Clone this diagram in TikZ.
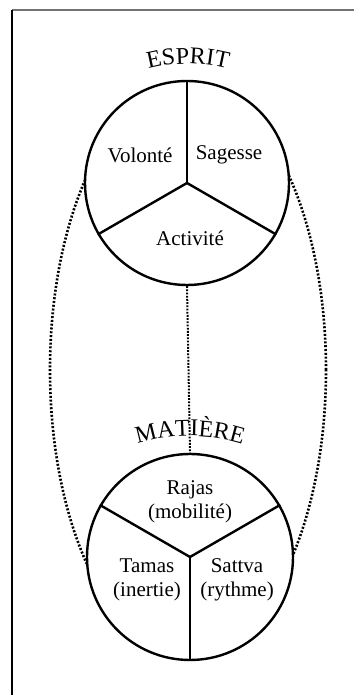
\documentclass[tikz,border=0pt]{standalone}
\usepackage{fontspec}
\setmainfont{Liberation Serif}
\usepackage{tikz}
\usetikzlibrary{decorations.text,calc}

\begin{document}
\begin{tikzpicture}[
  x=0.5pt, y=0.5pt,
  font=\fontsize{10.5}{12}\selectfont,
  orb/.style={circle, draw, fill=white, line width=1.2pt, inner sep=0pt},
  spoke/.style={line width=1.2pt},
  dotline/.style={line width=1.3pt, dash pattern=on 1pt off 0.9pt},
  lbl/.style={align=center, inner sep=1pt},
  arched/.style={decorate, decoration={text along path, text align=center,
                 text={#1}, text format delimiters={|}{|}}},
]
  \useasboundingbox (0,0) rectangle (354,695);

  % frame
  \draw[line width=1pt, black!55] (12,685) -- (354,685);
  \draw[line width=0.8pt] (12,685) -- (12,0);

  % outer loop (hidden behind the two circles)
  \draw[dotline] (188,325) ellipse [x radius=138, y radius=285];

  % circles
  \node[orb, minimum size=102pt] (esprit) at (187,512) {};
  \node[orb, minimum size=103pt] (matiere) at (190,138) {};

  % spokes
  \foreach \a in {90,210,330}
    \draw[spoke] (esprit.center) -- (esprit.\a);
  \foreach \a in {270,150,30}
    \draw[spoke] (matiere.center) -- (matiere.\a);

  \draw[line width=1pt, dash pattern=on 0.9pt off 0.7pt] (esprit.south) -- (matiere.north);

  % titles
  \coordinate (ce) at (188,476);
  \coordinate (cm) at (190,84);
  \path[arched={|\fontsize{12}{13}\selectfont|ESPRIT}]
    ($(ce)+(106:77.5pt)$) arc[start angle=106, end angle=74, radius=77.5pt];
  \path[arched={|\fontsize{12}{13}\selectfont|MATIÈRE}]
    ($(cm)+(112:87.5pt)$) arc[start angle=112, end angle=68, radius=87.5pt];

  % parts
  \node[lbl] (vol) at (140,540) {Volonté};
  \node[lbl] (sag) at (229,540) {Sagesse};
  \node[lbl] (act) at (190,457) {Activité};
  \node[lbl] (raj) at (190,193) {Rajas\\(mobilité)};
  \node[lbl] (tam) at (147,115) {Tamas\\(inertie)};
  \node[lbl] (sat) at (237,115) {Sattva\\(rythme)};
\end{tikzpicture}
\end{document}
